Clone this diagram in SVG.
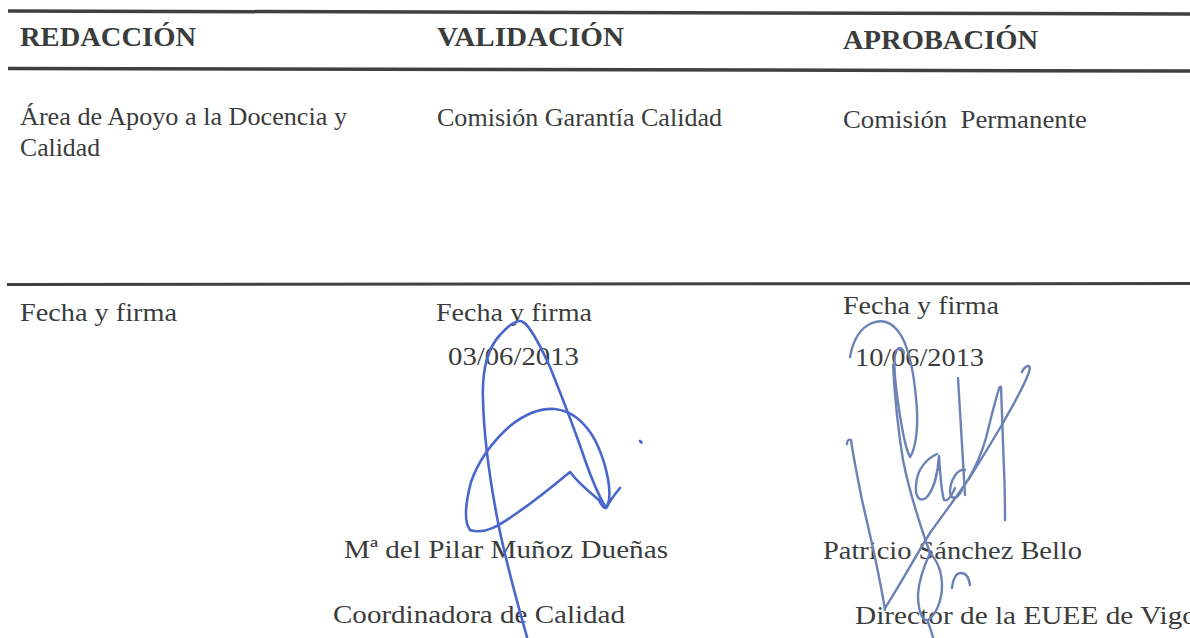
<svg xmlns="http://www.w3.org/2000/svg" width="1190" height="638" viewBox="0 0 1190 638">
<style>
.rule{stroke:#3e4140;fill:none;stroke-linecap:butt}
.h{font-family:"Liberation Serif","DejaVu Serif",serif;font-weight:bold;font-size:28px;fill:#3a3d3c}
.t{font-family:"Liberation Serif","DejaVu Serif",serif;font-size:26px;fill:#3a3d3c}
.sigL{fill:none;stroke:#4866cc;stroke-width:2.6;stroke-linecap:round;stroke-linejoin:round}
.sigR{fill:none;stroke:#6c82b6;stroke-width:2.4;stroke-linecap:round;stroke-linejoin:round}
</style>
<rect width="1190" height="638" fill="#ffffff"/>
<g id="rules">
<line class="rule" x1="8" y1="11" x2="1190" y2="14" stroke-width="3.5"/>
<line class="rule" x1="8" y1="68.5" x2="1190" y2="71" stroke-width="3.5"/>
<line class="rule" x1="7" y1="284.5" x2="1190" y2="283.5" stroke-width="3"/>
</g>
<g id="headers">
<text class="h" x="20" y="46" textLength="176" lengthAdjust="spacingAndGlyphs">REDACCIÓN</text>
<text class="h" x="437" y="46" textLength="187" lengthAdjust="spacingAndGlyphs">VALIDACIÓN</text>
<text class="h" x="843" y="49" textLength="195" lengthAdjust="spacingAndGlyphs">APROBACIÓN</text>
</g>
<g id="col-redaccion">
<text class="t" x="20" y="125" textLength="327" lengthAdjust="spacingAndGlyphs">Área de Apoyo a la Docencia y</text>
<text class="t" x="20" y="156" textLength="80" lengthAdjust="spacingAndGlyphs">Calidad</text>
<text class="t" x="20" y="321" textLength="157" lengthAdjust="spacingAndGlyphs">Fecha y firma</text>
</g>
<g id="col-validacion">
<text class="t" x="437" y="126" textLength="285" lengthAdjust="spacingAndGlyphs">Comisión Garantía Calidad</text>
<text class="t" x="436" y="321" textLength="156" lengthAdjust="spacingAndGlyphs">Fecha y firma</text>
<text class="t" x="448" y="365" textLength="131" lengthAdjust="spacingAndGlyphs">03/06/2013</text>
<text class="t" x="344" y="558" textLength="324" lengthAdjust="spacingAndGlyphs">Mª del Pilar Muñoz Dueñas</text>
<text class="t" x="333" y="623" textLength="292" lengthAdjust="spacingAndGlyphs">Coordinadora de Calidad</text>
</g>
<g id="col-aprobacion">
<text class="t" x="843" y="128" textLength="244" lengthAdjust="spacingAndGlyphs" xml:space="preserve">Comisión  Permanente</text>
<text class="t" x="843" y="314" textLength="156" lengthAdjust="spacingAndGlyphs">Fecha y firma</text>
<text class="t" x="855" y="366" textLength="129" lengthAdjust="spacingAndGlyphs">10/06/2013</text>
<text class="t" x="823" y="559" textLength="259" lengthAdjust="spacingAndGlyphs">Patricio Sánchez Bello</text>
<text class="t" x="855" y="624" textLength="342" lengthAdjust="spacingAndGlyphs">Director de la EUEE de Vigo</text>
</g>
<g id="signature-validacion">
<path class="sigL" d="M527,637 C518,605 505,560 497,517 C490,480 484,440 483,400 C482,375 486,350 500,335 C508,326 517,318 523,322 C530,326 540,345 550,367 C560,392 575,430 585,460 C592,480 600,498 606,508"/>
<path class="sigL" d="M620,488 C615,494 610,500 607,507 C605,510 601,505 599,500 C593,495 580,485 570,472 C560,480 540,497 517,513 C500,525 485,535 470,530 C464,522 465,505 471,482 C478,462 492,442 510,426 C525,414 540,408 555,409 C572,411 585,422 595,440 C605,460 611,485 609,500 C608,505 606,508 604,507"/>
<path class="sigL" d="M640,441 l1.5,1.5" stroke-width="2"/>
</g>
<g id="signature-aprobacion">
<path class="sigR" d="M847,444 C847,440 849,439 851,440 C853,455 857,475 862,500 C867,522 873,547 878,572 C882,592 884,603 885,610"/>
<path class="sigR" d="M885,608 C900,585 915,557 930,533 C945,512 958,495 970,477 C982,458 993,440 1003,423 C1013,405 1022,390 1027,377 C1030,370 1031,366 1028,366 C1025,367 1023,369 1022,372"/>
<path class="sigR" d="M850,357 C853,340 860,328 872,323 C885,318 895,325 902,337 C910,352 915,380 917,410 C918,432 915,450 910,457 C906,450 901,425 897,395 C894,372 893,355 897,350 C900,346 903,349 904,353"/>
<path class="sigR" d="M893,365 C895,400 898,430 903,460 C910,495 920,525 930,553 C924,566 919,580 918,594 C918,610 922,622 928,620 C936,615 942,600 942,586 C942,572 937,560 929,552"/>
<path class="sigR" d="M928,622 C930,628 932,633 933,638"/>
<path class="sigR" d="M937,454 C928,458 917,468 916,485 C915,498 920,502 926,498 C934,490 938,472 939,456 C940,470 941,490 944,500 C948,502 952,495 955,488"/>
<path class="sigR" d="M958,378 C960,410 962,450 965,495 M965,470 C958,468 950,480 950,492 C951,500 957,500 962,490"/>
<path class="sigR" d="M968,480 C975,468 982,452 986,438 C990,422 994,405 998,392 C999,388 1000,386 1001,387 C1002,410 1003,440 1004,470 C1005,490 1005,505 1005,520"/>
<path class="sigR" d="M952,588 C953,580 956,573 961,573 C966,573 969,578 970,585"/>
</g>
</svg>
